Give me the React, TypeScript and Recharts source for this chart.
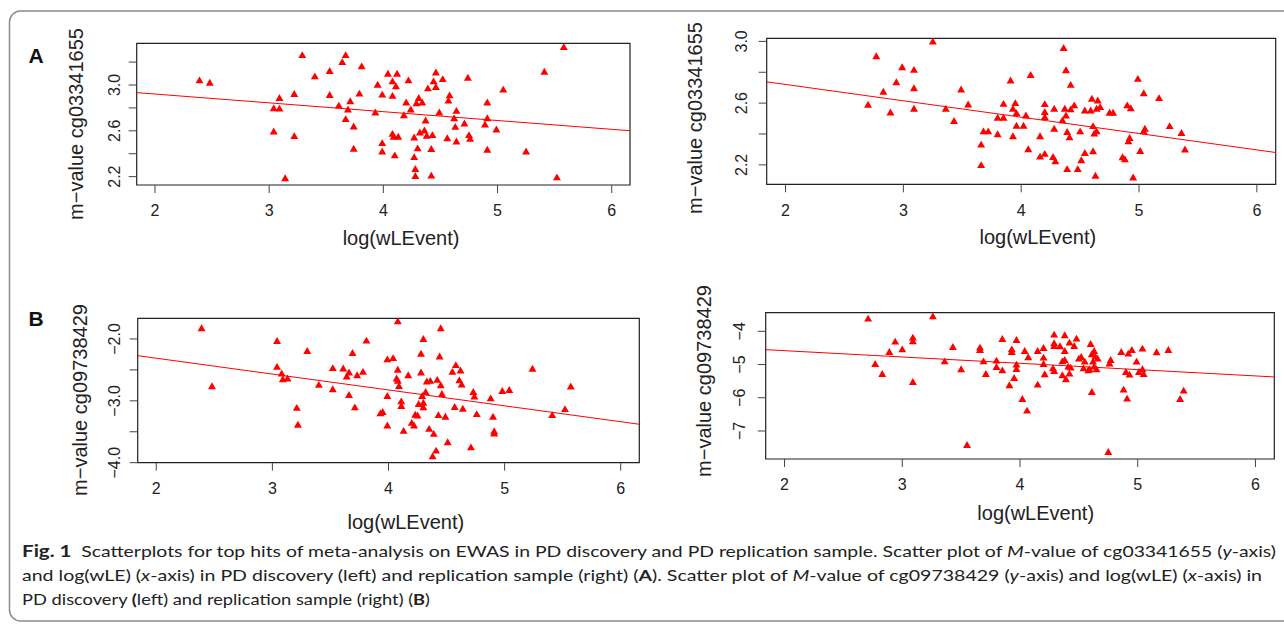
import React from "react";
import {
  ScatterChart,
  Scatter,
  XAxis,
  YAxis,
  ReferenceArea,
  ReferenceLine,
} from "recharts";

const W = 1284;
const H = 624;

// shared x axis: log(wLEvent)
const xTicks = [2, 3, 4, 5, 6];
const xDomain = [1.84, 6.16];

// [log(wLEvent), m-value]
const aDiscovery = [
  [2.39, 3.035], [2.48, 3.014], [3.29, 3.255], [3.67, 3.255], [3.64, 3.194], [3.81, 3.157],
  [3.53, 3.116], [3.4, 3.07], [4.04, 3.093], [4.12, 3.093], [4.08, 3.026], [4.11, 2.983],
  [3.95, 2.997], [4.22, 3.035], [4.46, 3.104], [4.52, 3.046], [4.44, 3.026], [4.46, 2.977],
  [4.39, 2.965], [4.74, 3.058], [5.05, 2.954], [5.41, 3.11], [5.58, 3.325], [3.53, 2.907],
  [3.22, 2.916], [3.09, 2.881], [3.04, 2.791], [3.09, 2.788], [3.79, 2.919], [3.71, 2.852],
  [3.61, 2.814], [3.69, 2.78], [3.99, 2.91], [4.08, 2.899], [3.93, 2.754], [4.2, 2.841],
  [4.31, 2.881], [4.29, 2.835], [4.34, 2.841], [4.24, 2.78], [4.18, 2.73], [4.58, 2.904],
  [4.57, 2.858], [4.49, 2.754], [4.64, 2.768], [4.62, 2.704], [4.37, 2.684], [4.91, 2.841],
  [4.91, 2.704], [4.71, 2.658], [4.89, 2.649], [4.63, 2.629], [4.99, 2.606], [3.67, 2.696],
  [3.74, 2.632], [3.04, 2.588], [3.22, 2.548], [4.08, 2.568], [4.09, 2.542], [4.13, 2.542],
  [4.27, 2.536], [4.36, 2.597], [4.32, 2.58], [4.38, 2.551], [4.43, 2.557], [4.56, 2.53],
  [4.64, 2.501], [4.75, 2.557], [4.76, 2.525], [3.99, 2.487], [3.99, 2.414], [4.1, 2.38],
  [3.74, 2.438], [4.3, 2.441], [4.42, 2.435], [4.91, 2.429], [5.25, 2.414], [4.27, 2.365],
  [4.28, 2.261], [4.28, 2.2], [4.42, 2.203], [3.14, 2.18], [5.52, 2.188],
];

const aReplication = [
  [2.7, 2.585], [2.77, 2.899], [2.83, 2.669], [2.89, 2.535], [2.94, 2.731], [2.99, 2.828],
  [3.09, 2.811], [3.09, 2.692], [3.09, 2.559], [3.25, 2.994], [3.36, 2.559], [3.43, 2.48],
  [3.49, 2.684], [3.55, 2.587], [3.66, 2.327], [3.66, 2.194], [3.68, 2.413], [3.72, 2.413],
  [3.8, 2.394], [3.85, 2.591], [3.8, 2.501], [3.85, 2.501], [3.91, 2.742], [3.93, 2.559],
  [3.95, 2.596], [3.96, 2.531], [3.96, 2.449], [3.93, 2.381], [4.02, 2.449], [4.04, 2.516],
  [4.08, 2.778], [4.06, 2.297], [4.16, 2.381], [4.16, 2.249], [4.2, 2.267], [4.2, 2.589],
  [4.2, 2.538], [4.2, 2.505], [4.28, 2.559], [4.28, 2.43], [4.27, 2.247], [4.29, 2.219],
  [4.35, 2.484], [4.36, 2.953], [4.38, 2.809], [4.37, 2.559], [4.38, 2.516], [4.39, 2.409],
  [4.41, 2.374], [4.39, 2.168], [4.42, 2.714], [4.42, 2.555], [4.45, 2.581], [4.5, 2.413],
  [4.51, 2.226], [4.48, 2.168], [4.54, 2.273], [4.54, 2.548], [4.59, 2.548], [4.6, 2.624],
  [4.61, 2.284], [4.61, 2.447], [4.62, 2.398], [4.64, 2.559], [4.65, 2.613], [4.64, 2.413],
  [4.63, 2.125], [4.67, 2.57], [4.75, 2.533], [4.78, 2.533], [4.86, 2.245], [4.88, 2.232],
  [4.9, 2.581], [4.93, 2.563], [4.92, 2.37], [4.91, 2.348], [4.99, 2.753], [5.01, 2.286],
  [5.04, 2.66], [5.05, 2.43], [5.04, 2.413], [4.95, 2.114], [5.17, 2.628], [5.26, 2.447],
  [5.36, 2.402], [5.39, 2.295],
];

const bDiscovery = [
  [2.39, -1.837], [2.48, -2.775], [3.04, -2.043], [3.04, -2.461], [3.08, -2.569], [3.09, -2.661],
  [3.13, -2.65], [3.3, -2.206], [3.21, -3.125], [3.22, -3.398], [3.4, -2.753], [3.52, -2.482],
  [3.52, -2.824], [3.61, -2.488], [3.64, -2.618], [3.66, -2.553], [3.69, -2.238], [3.66, -2.916],
  [3.71, -3.117], [3.73, -2.596], [3.78, -2.542], [3.81, -2.038], [3.99, -2.341], [4.04, -2.32],
  [4.08, -1.724], [4.08, -2.509], [4.07, -2.65], [4.08, -2.688], [4.09, -2.77], [3.99, -2.932],
  [3.93, -3.214], [3.95, -3.192], [3.99, -3.409], [4.11, -3.019], [4.11, -3.095], [4.13, -3.496],
  [4.17, -2.596], [4.2, -3.366], [4.22, -3.409], [4.23, -3.236], [4.25, -3.247], [4.26, -3.062],
  [4.28, -2.249], [4.28, -2.553], [4.29, -2.932], [4.3, -3.041], [4.3, -3.117], [4.3, -2.011],
  [4.32, -2.867], [4.33, -2.699], [4.36, -2.688], [4.35, -3.463], [4.39, -3.545], [4.38, -3.908],
  [4.41, -3.816], [4.42, -2.672], [4.43, -3.241], [4.44, -2.293], [4.45, -1.837], [4.45, -2.759],
  [4.46, -2.9], [4.49, -3.268], [4.51, -3.68], [4.55, -2.542], [4.58, -2.434], [4.57, -3.111],
  [4.61, -2.677], [4.62, -2.52], [4.63, -2.748], [4.64, -3.138], [4.71, -3.762], [4.73, -2.867],
  [4.74, -2.943], [4.76, -3.225], [4.88, -2.97], [4.9, -3.268], [4.91, -3.501], [4.91, -3.539],
  [4.98, -2.851], [5.04, -2.835], [5.24, -2.493], [5.41, -3.241], [5.52, -3.144], [5.57, -2.78],
];

const bReplication = [
  [2.71, -3.639], [3.26, -3.569], [2.77, -5.003], [2.83, -5.304], [2.89, -4.642], [2.94, -4.331],
  [3.0, -4.562], [3.09, -4.211], [3.09, -4.321], [3.09, -5.545], [3.36, -4.923], [3.43, -4.491],
  [3.5, -5.163], [3.55, -7.44], [3.66, -4.512], [3.66, -4.582], [3.69, -4.923], [3.71, -5.304],
  [3.8, -4.903], [3.8, -5.093], [3.85, -4.251], [3.85, -5.194], [3.91, -5.645], [3.93, -4.562],
  [3.93, -4.642], [3.95, -5.424], [3.97, -4.281], [3.97, -5.023], [3.97, -5.153], [4.02, -6.056],
  [4.04, -4.612], [4.06, -6.407], [4.07, -4.802], [4.15, -5.625], [4.15, -4.612], [4.2, -4.522],
  [4.2, -4.812], [4.2, -5.003], [4.21, -5.314], [4.28, -5.133], [4.29, -4.12], [4.29, -4.381],
  [4.29, -4.461], [4.29, -5.214], [4.34, -4.471], [4.36, -4.923], [4.36, -5.344], [4.38, -4.14],
  [4.38, -4.612], [4.38, -4.883], [4.39, -5.464], [4.41, -5.083], [4.42, -4.361], [4.42, -5.294],
  [4.43, -5.113], [4.46, -4.461], [4.48, -4.241], [4.5, -4.843], [4.52, -4.792], [4.54, -5.133],
  [4.55, -4.933], [4.58, -5.194], [4.59, -5.163], [4.6, -4.401], [4.61, -5.846], [4.61, -4.712],
  [4.62, -4.933], [4.63, -4.612], [4.63, -5.083], [4.64, -4.782], [4.65, -5.163], [4.66, -4.843],
  [4.75, -7.651], [4.76, -4.993], [4.77, -4.883], [4.86, -4.642], [4.88, -5.775], [4.9, -5.244],
  [4.91, -6.046], [4.92, -4.692], [4.93, -5.324], [4.95, -4.582], [4.99, -4.933], [5.01, -5.244],
  [5.04, -4.542], [5.04, -5.163], [5.05, -5.304], [5.16, -4.652], [5.26, -4.582], [5.36, -6.056],
  [5.39, -5.805],
];

// fitted lines: [intercept, slope]
const aDiscoveryFit = [3.075, -0.077];
const aReplicationFit = [2.933, -0.106];
const bDiscoveryFit = [-1.798, -0.2566];
const bReplicationFit = [-4.203, -0.19];

// y axis ticks and the ones R printed a label for
const aDiscoveryTicks = [2.2, 2.4, 2.6, 2.8, 3.0, 3.2];
const aReplicationTicks = [2.2, 2.4, 2.6, 2.8, 3.0];
const aTickLabels = [2.2, 2.6, 3.0];
const bDiscoveryTicks = [-4, -3.5, -3, -2.5, -2];
const bDiscoveryTickLabels = [-4, -3, -2];
const bReplicationTicks = [-7, -6, -5, -4];

const FONT = "'Liberation Sans', Arial, Helvetica, sans-serif";
const INK = "#222";
const AX = 40; // room reserved for each axis inside the chart

const fmt = (dec: number) => (v: number) =>
  (v < 0 ? "\u2212" : "") + Math.abs(v).toFixed(dec);

// R pch 17 filled triangle
const Tri = (p: any) => {
  const r = 4.6;
  const { cx, cy } = p;
  if (cx == null || cy == null) return <g />;
  const pts = `${cx},${cy - r} ${cx + 0.866 * r},${cy + 0.5 * r} ${cx - 0.866 * r},${cy + 0.5 * r}`;
  return <polygon points={pts} fill="#ff0000" />;
};

type PanelProps = {
  box: number[]; // left, top, right, bottom in page px
  points: number[][];
  yDomain: number[];
  yTicks: number[];
  yLabels: number[];
  dec: number;
  fit: number[];
  tickOff: number;
  xTickY: number;
};

function Panel({ box, points, yDomain, yTicks, yLabels, dec, fit, tickOff, xTickY }: PanelProps) {
  const [left, top, right, bottom] = box;
  const data = points.map(([x, y]) => ({ x, y }));
  const f = fmt(dec);

  const YTick = (p: any) => {
    const v = p.payload.value;
    if (!yLabels.some((l) => Math.abs(l - v) < 1e-9)) return <g />;
    const cx = left - tickOff + 5.7;
    return (
      <text
        transform={`translate(${cx},${p.y}) rotate(-90)`}
        textAnchor="middle"
        fontSize={16}
        fontFamily={FONT}
        fill={INK}
      >
        {f(v)}
      </text>
    );
  };

  const XTick = (p: any) => (
    <text x={p.x} y={xTickY + 5.7} textAnchor="middle" fontSize={16} fontFamily={FONT} fill={INK}>
      {p.payload.value}
    </text>
  );

  const [a, b] = fit;
  return (
    <div style={{ position: "absolute", left: 0, top: 0 }}>
      <ScatterChart
        width={W}
        height={H}
        margin={{ left: left - AX, top, right: W - right, bottom: H - bottom - AX }}
      >
        <XAxis
          type="number"
          dataKey="x"
          domain={xDomain}
          ticks={xTicks}
          interval={0}
          height={AX}
          tickSize={8}
          axisLine={false}
          tickLine={{ stroke: "#444" }}
          tick={XTick}
          allowDataOverflow
        />
        <YAxis
          type="number"
          dataKey="y"
          domain={yDomain}
          ticks={yTicks}
          interval={0}
          width={AX}
          tickSize={8}
          axisLine={false}
          tickLine={{ stroke: "#444" }}
          tick={YTick}
          allowDataOverflow
        />
        <ReferenceArea
          x1={xDomain[0]}
          x2={xDomain[1]}
          y1={yDomain[0]}
          y2={yDomain[1]}
          fill="none"
          fillOpacity={0}
          stroke={INK}
          strokeWidth={1.2}
        />
        <ReferenceLine
          segment={[
            { x: xDomain[0], y: a + b * xDomain[0] },
            { x: xDomain[1], y: a + b * xDomain[1] },
          ]}
          stroke="#ff0000"
          strokeWidth={1}
        />
        <Scatter data={data} fill="#ff0000" shape={Tri} isAnimationActive={false} />
      </ScatterChart>
    </div>
  );
}

function YLab({ x, y, text }: { x: number; y: number; text: string }) {
  return (
    <text
      transform={`translate(${x + 5},${y}) rotate(-90)`}
      textAnchor="middle"
      fontSize={20}
      fontFamily={FONT}
      fill={INK}
    >
      {text}
    </text>
  );
}

function XLab({ x, y }: { x: number; y: number }) {
  return (
    <text x={x} y={y + 5.2} textAnchor="middle" fontSize={20} fontFamily={FONT} fill={INK}>
      log(wLEvent)
    </text>
  );
}

const CAP = "Lato, 'Open Sans', sans-serif";

export default function App() {
  return (
    <div style={{ position: "absolute", left: 0, top: 0, width: W, height: H, background: "#fff", overflow: "hidden" }}>
      <Panel
        box={[136.7, 43.3, 630, 185]}
        points={aDiscovery}
        yDomain={[2.127, 3.364]}
        yTicks={aDiscoveryTicks}
        yLabels={aTickLabels}
        dec={1}
        fit={aDiscoveryFit}
        tickOff={22}
        xTickY={210}
      />
      <Panel
        box={[766.7, 38.3, 1275.7, 184.3]}
        points={aReplication}
        yDomain={[2.074, 3.02]}
        yTicks={aReplicationTicks}
        yLabels={aTickLabels}
        dec={1}
        fit={aReplicationFit}
        tickOff={25}
        xTickY={210}
      />
      <Panel
        box={[137.7, 318.3, 639.3, 462.7]}
        points={bDiscovery}
        yDomain={[-4.0, -1.666]}
        yTicks={bDiscoveryTicks}
        yLabels={bDiscoveryTickLabels}
        dec={1}
        fit={bDiscoveryFit}
        tickOff={23}
        xTickY={488}
      />
      <Panel
        box={[765.7, 312.7, 1274.3, 459]}
        points={bReplication}
        yDomain={[-7.843, -3.44]}
        yTicks={bReplicationTicks}
        yLabels={bReplicationTicks}
        dec={0}
        fit={bReplicationFit}
        tickOff={26}
        xTickY={484.3}
      />
      <svg width={W} height={H} style={{ position: "absolute", left: 0, top: 0, pointerEvents: "none" }}>
        <rect x={9.5} y={11} width={1320} height={610} rx={11} fill="none" stroke="#8c8c8c" strokeWidth={1.5} />
        <text x={28.5} y={63} fontSize={21} fontWeight="bold" fontFamily={FONT} fill="#111">A</text>
        <text x={28.5} y={326} fontSize={21} fontWeight="bold" fontFamily={FONT} fill="#111">B</text>

        <YLab x={78} y={124} text="m−value cg03341655" />
        <YLab x={697} y={118} text="m−value cg03341655" />
        <YLab x={82} y={400} text="m−value cg09738429" />
        <YLab x={705.7} y={381} text="m−value cg09738429" />

        <XLab x={401} y={239.3} />
        <XLab x={1037.8} y={238.3} />
        <XLab x={405.8} y={523.3} />
        <XLab x={1035.7} y={515} />

        <g fontFamily={CAP} fontSize={16} fill="#222">
          <text x={22} y={557} textLength={1254} lengthAdjust="spacingAndGlyphs">
            <tspan fontWeight="bold" fontSize={17}>Fig. 1</tspan>
            <tspan dx={8}>Scatterplots for top hits of meta-analysis on EWAS in PD discovery and PD replication sample. Scatter plot of </tspan>
            <tspan fontStyle="italic">M</tspan>
            <tspan>-value of cg03341655 (</tspan>
            <tspan fontStyle="italic">y</tspan>
            <tspan>-axis)</tspan>
          </text>
          <text x={22} y={581} textLength={1240} lengthAdjust="spacingAndGlyphs">
            <tspan>and log(wLE) (</tspan>
            <tspan fontStyle="italic">x</tspan>
            <tspan>-axis) in PD discovery (left) and replication sample (right) (</tspan>
            <tspan fontWeight="bold">A</tspan>
            <tspan>). Scatter plot of </tspan>
            <tspan fontStyle="italic">M</tspan>
            <tspan>-value of cg09738429 (</tspan>
            <tspan fontStyle="italic">y</tspan>
            <tspan>-axis) and log(wLE) (</tspan>
            <tspan fontStyle="italic">x</tspan>
            <tspan>-axis) in</tspan>
          </text>
          <text x={22} y={605} textLength={408} lengthAdjust="spacingAndGlyphs">
            <tspan>PD discovery </tspan>
            <tspan fontWeight="bold">(</tspan>
            <tspan>left) and replication sample (right) (</tspan>
            <tspan fontWeight="bold">B</tspan>
            <tspan>)</tspan>
          </text>
        </g>
      </svg>
    </div>
  );
}
